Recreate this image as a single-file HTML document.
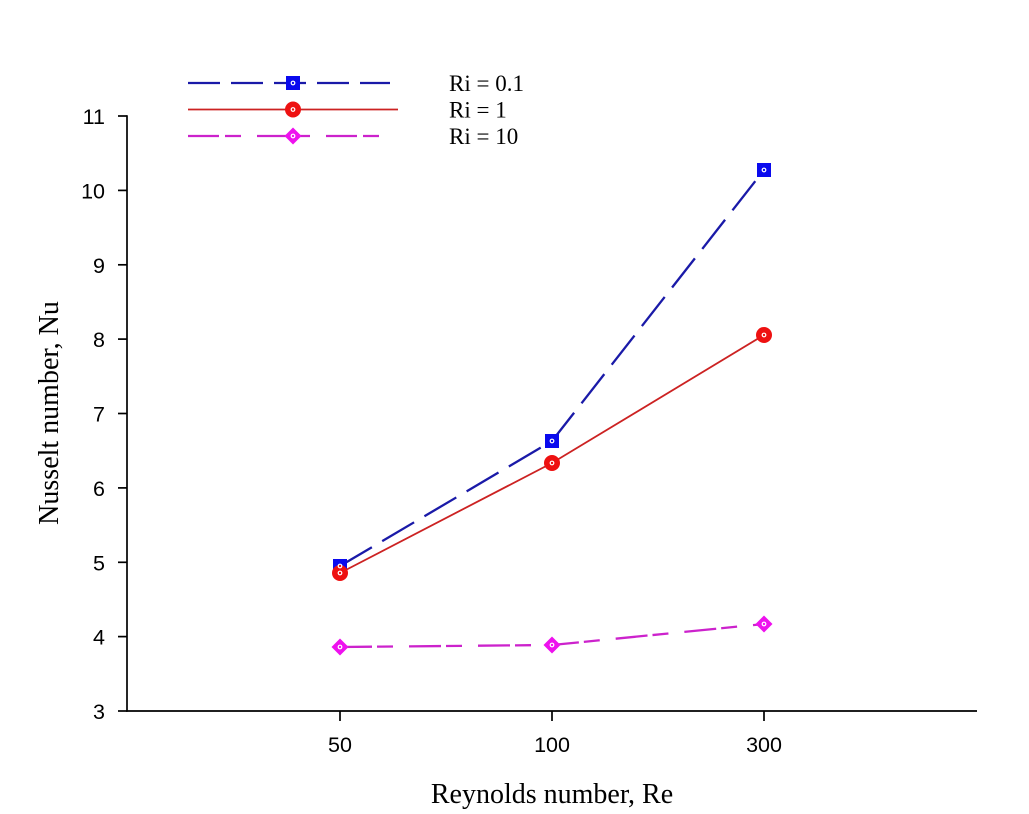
<!DOCTYPE html>
<html>
<head>
<meta charset="utf-8">
<style>
html,body{margin:0;padding:0;background:#fff;}
svg{display:block;}
</style>
</head>
<body>
<svg width="1029" height="814" viewBox="0 0 1029 814" xmlns="http://www.w3.org/2000/svg">
<rect width="1029" height="814" fill="#fff"/>
<!-- axes -->
<g stroke="#000" stroke-width="1.7" fill="none">
<line x1="127" y1="115.2" x2="127" y2="711.8"/>
<line x1="126.2" y1="711" x2="977" y2="711"/>
<!-- y ticks -->
<line x1="118" y1="116" x2="127" y2="116"/>
<line x1="118" y1="190.4" x2="127" y2="190.4"/>
<line x1="118" y1="264.8" x2="127" y2="264.8"/>
<line x1="118" y1="339.1" x2="127" y2="339.1"/>
<line x1="118" y1="413.5" x2="127" y2="413.5"/>
<line x1="118" y1="487.9" x2="127" y2="487.9"/>
<line x1="118" y1="562.3" x2="127" y2="562.3"/>
<line x1="118" y1="636.6" x2="127" y2="636.6"/>
<line x1="118" y1="711" x2="127" y2="711"/>
<!-- x ticks -->
<line x1="340" y1="711" x2="340" y2="721"/>
<line x1="552" y1="711" x2="552" y2="721"/>
<line x1="764" y1="711" x2="764" y2="721"/>
</g>
<g font-family="'Liberation Sans', Arial, sans-serif" font-size="21.5" fill="#000" text-anchor="end">
<text x="105" y="124">11</text>
<text x="105" y="198.4">10</text>
<text x="105" y="272.8">9</text>
<text x="105" y="347.1">8</text>
<text x="105" y="421.5">7</text>
<text x="105" y="495.9">6</text>
<text x="105" y="570.3">5</text>
<text x="105" y="644.6">4</text>
<text x="105" y="719">3</text>
</g>
<g font-family="'Liberation Sans', Arial, sans-serif" font-size="21.5" fill="#000" text-anchor="middle">
<text x="340" y="752">50</text>
<text x="552" y="752">100</text>
<text x="764" y="752">300</text>
</g>
<!-- axis titles -->
<text x="552" y="803" font-family="'Liberation Serif', 'Times New Roman', serif" font-size="28" text-anchor="middle" fill="#000">Reynolds number, Re</text>
<text transform="translate(58,413) rotate(-90)" font-family="'Liberation Serif', 'Times New Roman', serif" font-size="28" text-anchor="middle" fill="#000">Nusselt number, Nu</text>

<!-- series lines -->
<polyline points="340,566 552,441 764,170" fill="none" stroke="#1a1aa8" stroke-width="2.3" stroke-dasharray="37,12"/>
<polyline points="340,573 552,463 764,335" fill="none" stroke="#cc2222" stroke-width="1.8"/>
<polyline points="340,647 552,645 764,624" fill="none" stroke="#cc22cc" stroke-width="2.3" stroke-dasharray="32,5,16,16"/>

<!-- markers blue squares -->
<g fill="#0a0aee">
<rect x="333" y="559" width="14" height="14"/>
<rect x="545" y="434" width="14" height="14"/>
<rect x="757" y="163" width="14" height="14"/>
</g>
<g fill="#ee1111">
<circle cx="340" cy="573" r="8"/>
<circle cx="552" cy="463" r="8"/>
<circle cx="764" cy="335" r="8"/>
</g>
<g fill="#ee11ee">
<polygon points="340,638.5 348.5,647 340,655.5 331.5,647"/>
<polygon points="552,636.5 560.5,645 552,653.5 543.5,645"/>
<polygon points="764,615.5 772.5,624 764,632.5 755.5,624"/>
</g>
<!-- center dots -->
<g fill="none" stroke="#fff" stroke-width="1.2">
<circle cx="340" cy="566" r="1.8"/><circle cx="552" cy="441" r="1.8"/><circle cx="764" cy="170" r="1.8"/>
<circle cx="340" cy="573" r="1.8"/><circle cx="552" cy="463" r="1.8"/><circle cx="764" cy="335" r="1.8"/>
<circle cx="340" cy="647" r="1.8"/><circle cx="552" cy="645" r="1.8"/><circle cx="764" cy="624" r="1.8"/>
</g>

<!-- legend -->
<line x1="188" y1="83" x2="390" y2="83" stroke="#1a1aa8" stroke-width="2.2" stroke-dasharray="32,11"/>
<rect x="286" y="76" width="14" height="14" fill="#0a0aee"/>
<line x1="188" y1="109.5" x2="398" y2="109.5" stroke="#cc2222" stroke-width="1.8"/>
<circle cx="293" cy="109.5" r="8" fill="#ee1111"/>
<line x1="188" y1="136" x2="381" y2="136" stroke="#cc22cc" stroke-width="2.2" stroke-dasharray="31,6,16,16"/>
<polygon points="293,127.5 301.5,136 293,144.5 284.5,136" fill="#ee11ee"/>
<g fill="none" stroke="#fff" stroke-width="1.2">
<circle cx="293" cy="83" r="1.8"/><circle cx="293" cy="109.5" r="1.8"/><circle cx="293" cy="136" r="1.8"/>
</g>
<g font-family="'Liberation Serif', 'Times New Roman', serif" font-size="23" fill="#000">
<text x="449" y="91">Ri = 0.1</text>
<text x="449" y="117.5">Ri = 1</text>
<text x="449" y="144">Ri = 10</text>
</g>
</svg>
</body>
</html>
